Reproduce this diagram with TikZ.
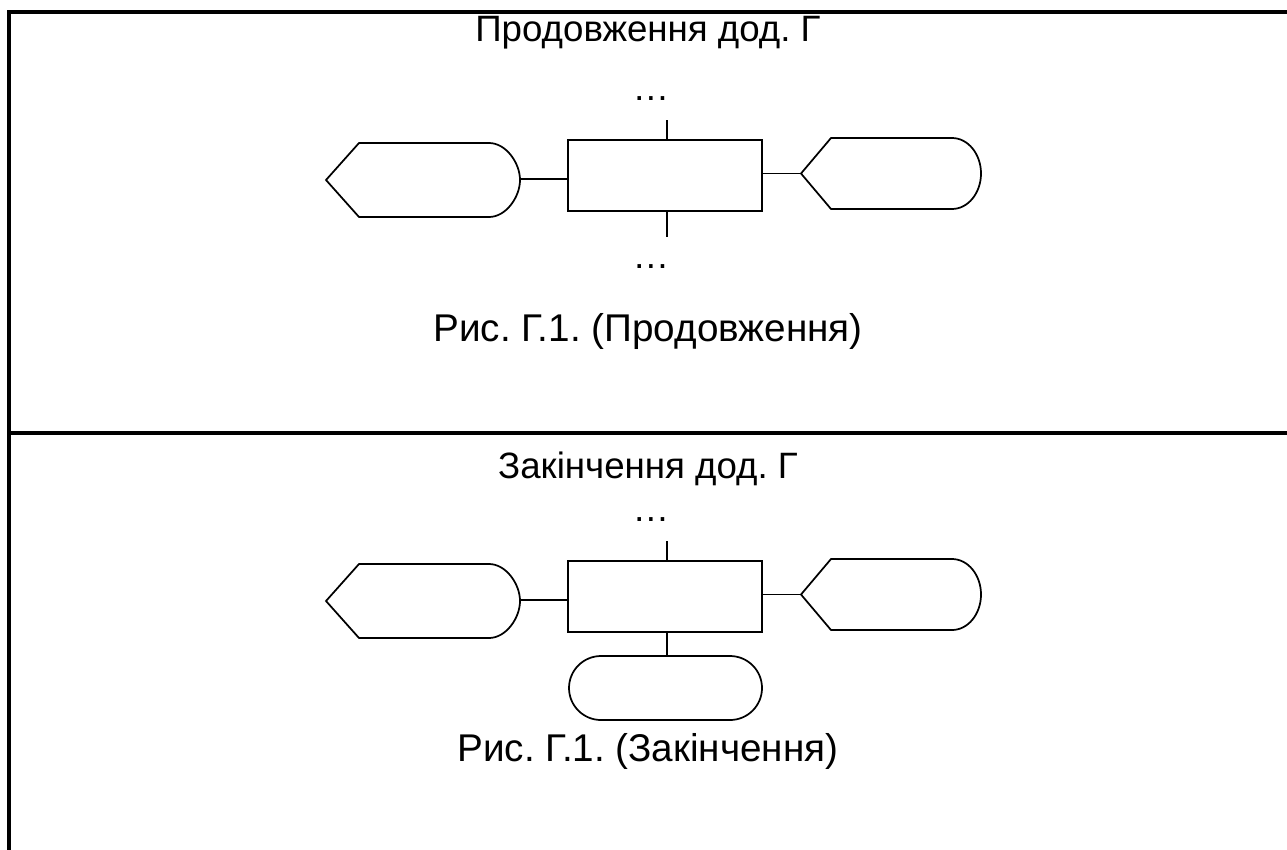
\documentclass[tikz,border=0pt]{standalone}
\usepackage{fontspec}
\setmainfont{Liberation Sans}
\usetikzlibrary{shapes.misc}
\frenchspacing
\begin{document}
\begin{tikzpicture}[x=0.75pt,y=-0.75pt,
  frameline/.style={line width=2.3pt},
  shapeline/.style={line width=1.3pt},
  txt/.style={font=\frenchspacing\fontsize{27.5}{32}\selectfont, inner sep=0pt, anchor=base},
  captxt/.style={font=\frenchspacing\fontsize{29}{34}\selectfont, inner sep=0pt, anchor=base},
  procbox/.style={draw, shapeline, minimum width=145.5pt, minimum height=53.25pt, inner sep=0pt},
  ovalbox/.style={draw, shapeline, rounded rectangle, minimum width=144.75pt, minimum height=48pt, inner sep=0pt}]
\useasboundingbox (0,0) rectangle (1287,849);
% frame
\draw[frameline] (1290,12) -- (9,12) -- (9,852);
\draw[frameline] (9,433) -- (1290,433);

% ---------- top part ----------
\node[txt] (title1) at (648,41) {Продовження дод. Г};
\node[txt] (dotsA) at (651,100) {…};
\node[txt] (dotsB) at (651,268) {…};
\node[captxt] (cap1) at (648,341) {Рис. Г.1. (Продовження)};
\node[procbox] (r1) at (665,175.5) {};
% left display shape
\draw[shapeline] (359,143) -- (326,180) -- (359,217) -- (489,217)
  .. controls (506,217) and (520,197) .. (520,180)
  .. controls (520,163) and (506,143) .. (489,143) -- cycle;
\coordinate (l1) at (520,179);
% right display shape
\draw[shapeline] (831,138) -- (801,173.5) -- (831,209) -- (952,209)
  .. controls (968,209) and (981,193) .. (981,173.5)
  .. controls (981,154) and (968,138) .. (952,138) -- cycle;
\coordinate (p1) at (801,173.5);
\coordinate (t1) at (667,120);
\coordinate (b1) at (667,237);
\draw[shapeline] (l1) -- (l1 -| r1.west);
\draw[shapeline] (p1 -| r1.east) -- (p1);
\draw[shapeline] (t1) -- (t1 |- r1.north);
\draw[shapeline] (b1 |- r1.south) -- (b1);

% ---------- bottom part ----------
\node[txt] (title2) at (648,478) {Закінчення дод. Г};
\node[txt] (dotsC) at (651,521) {…};
\node[captxt] (cap2) at (648,761) {Рис. Г.1. (Закінчення)};
\node[procbox] (r2) at (665,596.5) {};
\draw[shapeline] (359,564) -- (326,601) -- (359,638) -- (489,638)
  .. controls (506,638) and (520,618) .. (520,601)
  .. controls (520,584) and (506,564) .. (489,564) -- cycle;
\coordinate (l2) at (520,600);
\draw[shapeline] (831,559) -- (801,594.5) -- (831,630) -- (952,630)
  .. controls (968,630) and (981,614) .. (981,594.5)
  .. controls (981,575) and (968,559) .. (952,559) -- cycle;
\coordinate (p2) at (801,594.5);
\coordinate (t2) at (667,541);
\node[ovalbox] (o2) at (665.5,688) {};
\draw[shapeline] (l2) -- (l2 -| r2.west);
\draw[shapeline] (p2 -| r2.east) -- (p2);
\draw[shapeline] (t2) -- (t2 |- r2.north);
\draw[shapeline] (r2.south -| t2) -- (o2.north -| t2);
\end{tikzpicture}
\end{document}
